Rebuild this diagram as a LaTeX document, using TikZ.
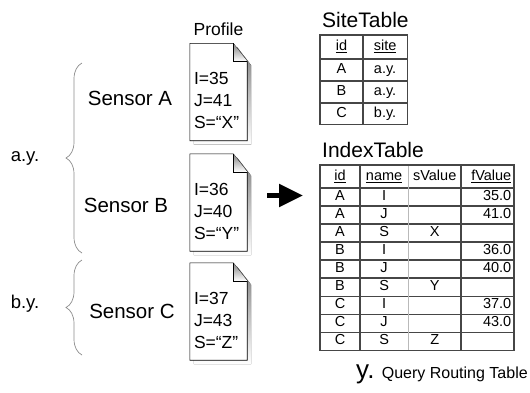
\documentclass[tikz,border=0pt]{standalone}
\usepackage{fontspec}
\setmainfont{Liberation Sans}
\usetikzlibrary{arrows.meta,positioning,matrix,decorations.pathreplacing}
\definecolor{shade}{RGB}{110,110,110}
\definecolor{rule}{RGB}{70,70,70}
\definecolor{brc}{RGB}{140,140,140}

\begin{document}
\begin{tikzpicture}[x=1pt,y=-1pt,>=Latex,every node/.style={inner sep=0pt},
  sensor/.style={font=\fontsize{20.5}{24}\selectfont},
  sitelabel/.style={font=\fontsize{18.5}{22}\selectfont},
  profile/.style={minimum width=57pt,minimum height=97pt},
  proftext/.style={font=\fontsize{17.5}{22}\selectfont,align=left,anchor=north west},
  tabtitle/.style={font=\fontsize{21}{25}\selectfont,anchor=base west},
  cell/.style={draw=rule,line width=0.6pt,font=\fontsize{14.5}{17}\selectfont,text height=10.5pt,text depth=3pt},
  bracegroup/.style={draw=brc,line width=0.7pt,decorate,decoration={brace,amplitude=16pt}},
  bigarrow/.style={line width=5pt,-{Triangle[length=24pt,width=22pt]}}]
\useasboundingbox (0,0) rectangle (530,392);

% sensors and their profiles
\node[sensor] (sensA) at (130,98.5) {Sensor A};
\node[sensor] (sensB) at (126,205.5) {Sensor B};
\node[sensor] (sensC) at (132,311) {Sensor C};
\node[profile] (docA) at (218.5,92) {};
\node[profile] (docB) at (218.5,202.5) {};
\node[profile] (docC) at (218.5,311.5) {};
\foreach \d in {docA,docB,docC} {
  \fill[shade,transform canvas={shift={(4pt,-4pt)}}] (\d.north west) -- ([xshift=-14pt]\d.north east) -- ([yshift=-18pt]\d.north east) -- (\d.south east) -- (\d.south west) -- cycle;
  \draw[fill=white,line width=0.6pt] (\d.north west) -- ([xshift=-14pt]\d.north east) -- ([yshift=-18pt]\d.north east) -- (\d.south east) -- (\d.south west) -- cycle;
  \draw[shade,line width=0.6pt] ([xshift=-14pt]\d.north east) |- ([yshift=-18pt]\d.north east);
}
\node[font=\fontsize{17.5}{21}\selectfont,above=7pt of docA] (proflabel) {Profile};
\node[proftext] (valA) at ([shift={(4pt,-29pt)}]docA.north west) {I=35\\J=41\\S=“X”};
\node[proftext] (valB) at ([shift={(4pt,-29pt)}]docB.north west) {I=36\\J=40\\S=“Y”};
\node[proftext] (valC) at ([shift={(4pt,-29pt)}]docC.north west) {I=37\\J=43\\S=“Z”};

% sites
\node[sitelabel] (siteA) at (25,158.5) {a.y.};
\node[sitelabel] (siteB) at (25,303.5) {b.y.};
\coordinate (aTop) at (82,63);
\coordinate (aBot) at (82,253);
\coordinate (bTop) at (82,260);
\coordinate (bBot) at (82,355);
\draw[bracegroup] (aBot) -- (aTop);
\draw[bracegroup] (bBot) -- (bTop);

% tables
\node[tabtitle] (sitetitle) at (322,27) {SiteTable};
\matrix (stab) [matrix of nodes,anchor=north west,nodes={cell,minimum height=21.3pt},
  column 1/.style={nodes={minimum width=42pt}},
  column 2/.style={nodes={minimum width=44pt}},
  row 1/.style={nodes={minimum height=23pt}}] at (320,35) {
  \underline{id} & \underline{site} \\
  A & a.y. \\
  B & a.y. \\
  C & b.y. \\
};
\draw[rule,line width=1.5pt] (stab.north west) rectangle (stab.south east);

\node[tabtitle] (idxtitle) at (322,157) {IndexTable};
\matrix (itab) [matrix of nodes,nodes in empty cells,anchor=north west,nodes={cell,minimum height=17.45pt},
  column 1/.style={nodes={minimum width=39pt}},
  column 2/.style={nodes={minimum width=48pt}},
  column 3/.style={nodes={minimum width=52pt}},
  column 4/.style={nodes={minimum width=52pt,text width=48pt,align=right}},
  row 1/.style={nodes={minimum height=22pt}}] at (320,165) {
  \underline{id} & \underline{name} & sValue & \underline{fValue} \\
  A & I & & 35.0 \\
  A & J & & 41.0 \\
  A & S & X & \\
  B & I & & 36.0 \\
  B & J & & 40.0 \\
  B & S & Y & \\
  C & I & & 37.0 \\
  C & J & & 43.0 \\
  C & S & Z & \\
};
\draw[gray!55,line width=1.3pt] (itab-1-3.north west) -- (itab-10-3.south west);
\draw[rule,line width=1.5pt] (itab.north west) rectangle (itab.south east);

\draw[bigarrow,shorten <=20pt,shorten >=17pt] ([yshift=7pt]docB.east) -- ([yshift=7pt]docB.east -| itab.west);

\node[font=\fontsize{26}{30}\selectfont,anchor=base west] (ylabel) at (356,378) {y.};
\node[font=\fontsize{16}{19}\selectfont,anchor=base west] (caption) at ([xshift=7pt]ylabel.base east) {Query Routing Table};
\end{tikzpicture}
\end{document}
